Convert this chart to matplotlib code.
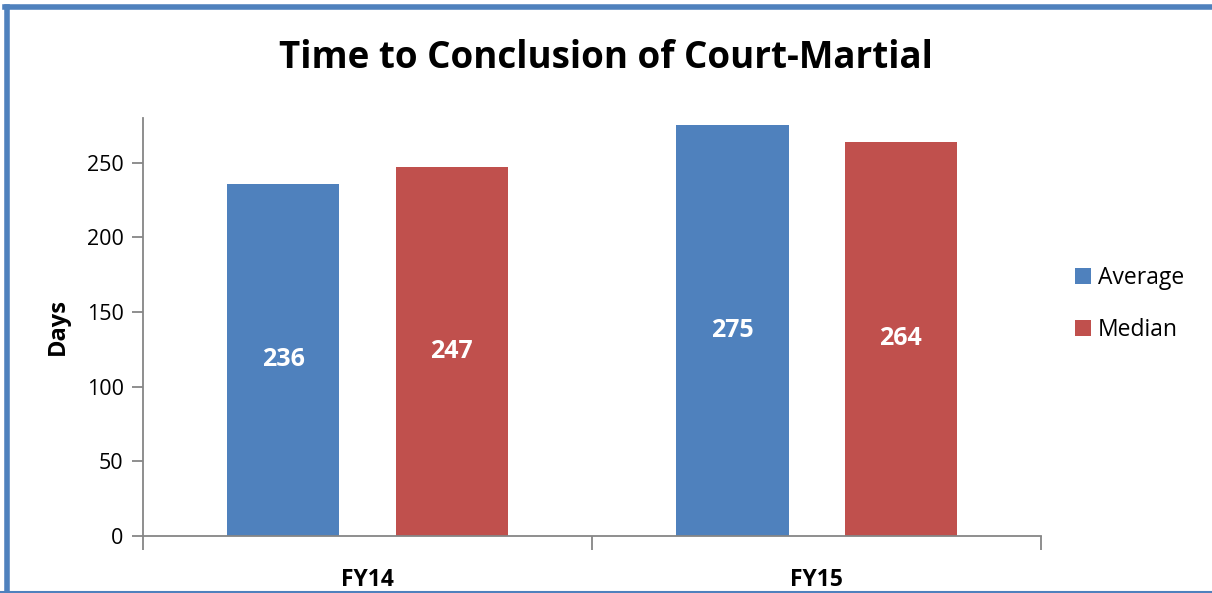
import numpy as np
import matplotlib.pyplot as plt
from matplotlib.lines import Line2D

plt.rcParams['font.family'] = ['Open Sans', 'DejaVu Sans']

# donnees
categories = ["FY14", "FY15"]
average = [236, 275]
median = [247, 264]
series_names = ["Average", "Median"]

BLUE = "#4F81BD"
RED = "#C0504D"
GRID = "#868686"

fig = plt.figure(figsize=(12.12, 5.93), dpi=100)
ax = fig.add_axes([0.118, 0.0961, 0.741, 0.705])

x = np.arange(len(categories))
w = 0.25
off = 0.1875
bars_avg = ax.bar(x - off, average, w, color=BLUE, label=series_names[0])
bars_med = ax.bar(x + off, median, w, color=RED, label=series_names[1])

for bars in (bars_avg, bars_med):
    for b in bars:
        h = b.get_height()
        ax.text(b.get_x() + b.get_width() / 2, h / 2, f"{h:.0f}",
                ha="center", va="center", color="white",
                fontsize=18, fontweight="bold")

ax.set_xlim(-0.5, len(categories) - 0.5)
ax.set_ylim(0, 280)
ax.set_yticks([0, 50, 100, 150, 200, 250])
ax.set_xticks(x)
ax.set_xticklabels(categories, fontsize=16.5, fontweight="bold")
ax.set_xticks([-0.5, 0.5, 1.5], minor=True)
ax.tick_params(axis="x", which="major", length=0, pad=23)
ax.tick_params(axis="x", which="minor", length=10, width=1.3, color=GRID,
               direction="out")
ax.tick_params(axis="y", length=8, width=1.3, color=GRID, labelsize=15.5,
               pad=6)

for s in ("top", "right"):
    ax.spines[s].set_visible(False)
for s in ("left", "bottom"):
    ax.spines[s].set_color(GRID)
    ax.spines[s].set_linewidth(1.3)

ax.set_ylabel("Days", fontsize=17, fontweight="bold", labelpad=12)
fig.suptitle("Time to Conclusion of Court-Martial", fontsize=26.5,
             fontweight="bold", y=0.935)

ax.legend(loc="center left", bbox_to_anchor=(1.015, 0.555), frameon=False,
          fontsize=16.5, handlelength=0.7, handleheight=0.7,
          handletextpad=0.3, labelspacing=1.2)

# cadre bleu autour de la figure
fig.add_artist(Line2D([6.5 / 1212, 6.5 / 1212], [0, 1 - 6.5 / 593],
                      transform=fig.transFigure, color=BLUE, lw=4))
fig.add_artist(Line2D([4.5 / 1212, 1], [1 - 6.5 / 593, 1 - 6.5 / 593],
                      transform=fig.transFigure, color=BLUE, lw=4))
fig.add_artist(Line2D([0, 1], [1.5 / 593, 1.5 / 593],
                      transform=fig.transFigure, color=BLUE, lw=1.5))

fig.savefig("out.png", dpi=100)
